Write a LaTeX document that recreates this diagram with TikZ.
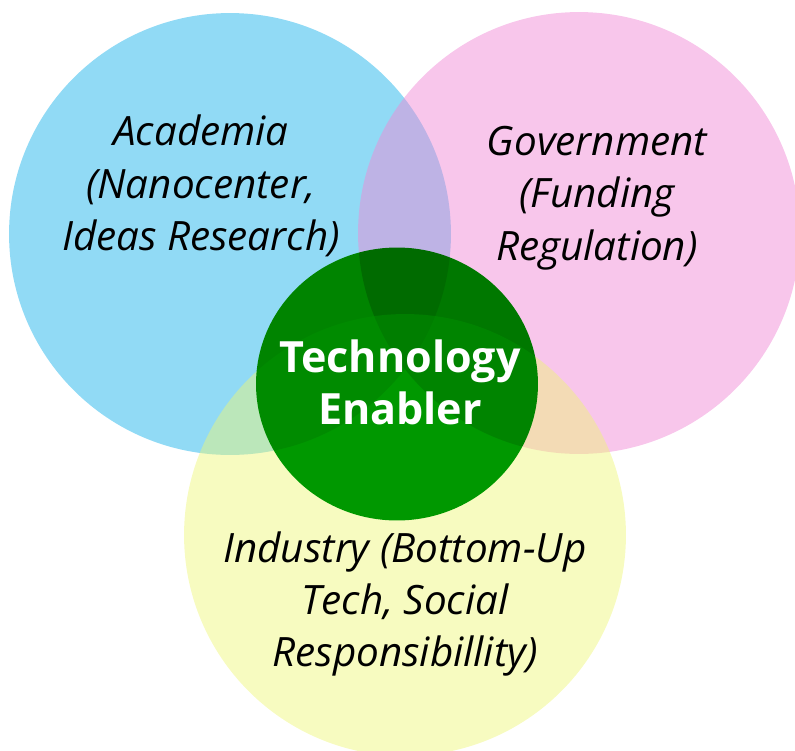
\documentclass[tikz,border=0pt]{standalone}
\usepackage{fontspec}
\setmainfont{Open Sans}
\usetikzlibrary{shapes.geometric}
\definecolor{acadblue}{RGB}{11,173,233}
\definecolor{govpink}{RGB}{240,136,213}
\definecolor{indyellow}{RGB}{237,246,115}
\definecolor{techgreen}{RGB}{0,155,0}

\begin{document}
\begin{tikzpicture}[x=0.02cm,y=-0.02cm]
\tikzstyle{venn}=[circle, minimum size=8.84cm, inner sep=0pt]
\tikzstyle{acad}=[venn, fill=acadblue, fill opacity=0.45]
\tikzstyle{gov}=[venn, fill=govpink, fill opacity=0.48]
\tikzstyle{ind}=[venn, fill=indyellow, fill opacity=0.45]
\tikzstyle{techell}=[ellipse, minimum width=5.64cm, minimum height=5.46cm, inner sep=0pt, fill=techgreen]
\tikzstyle{lbl}=[align=center, font=\fontsize{23}{29.8}\selectfont\itshape, text=black]
\tikzstyle{bigtxt}=[align=center, font=\fontsize{24.5}{29.5}\selectfont\bfseries, text=white]
\useasboundingbox (0,0) rectangle (795,751);
\node (acad) [acad] at (230,234) {};
\node (gov) [gov] at (579,233) {};
\node (ind) [ind] at (405,535) {};
\begin{scope}[blend mode=multiply]
\node (tech) [techell] at (397,384) {};
\end{scope}
\node (acadtxt) [lbl] at (201,186) {Academia\\(Nanocenter,\\Ideas Research)};
\node (govtxt) [lbl] at (597,198) {Government\\(Funding\\Regulation)};
\node (indtxt) [lbl] at (405,604) {Industry (Bottom-Up\\Tech, Social\\Responsibillity)};
\node (techtxt) [bigtxt] at (400,382) {Technology\\Enabler};
\end{tikzpicture}
\end{document}
